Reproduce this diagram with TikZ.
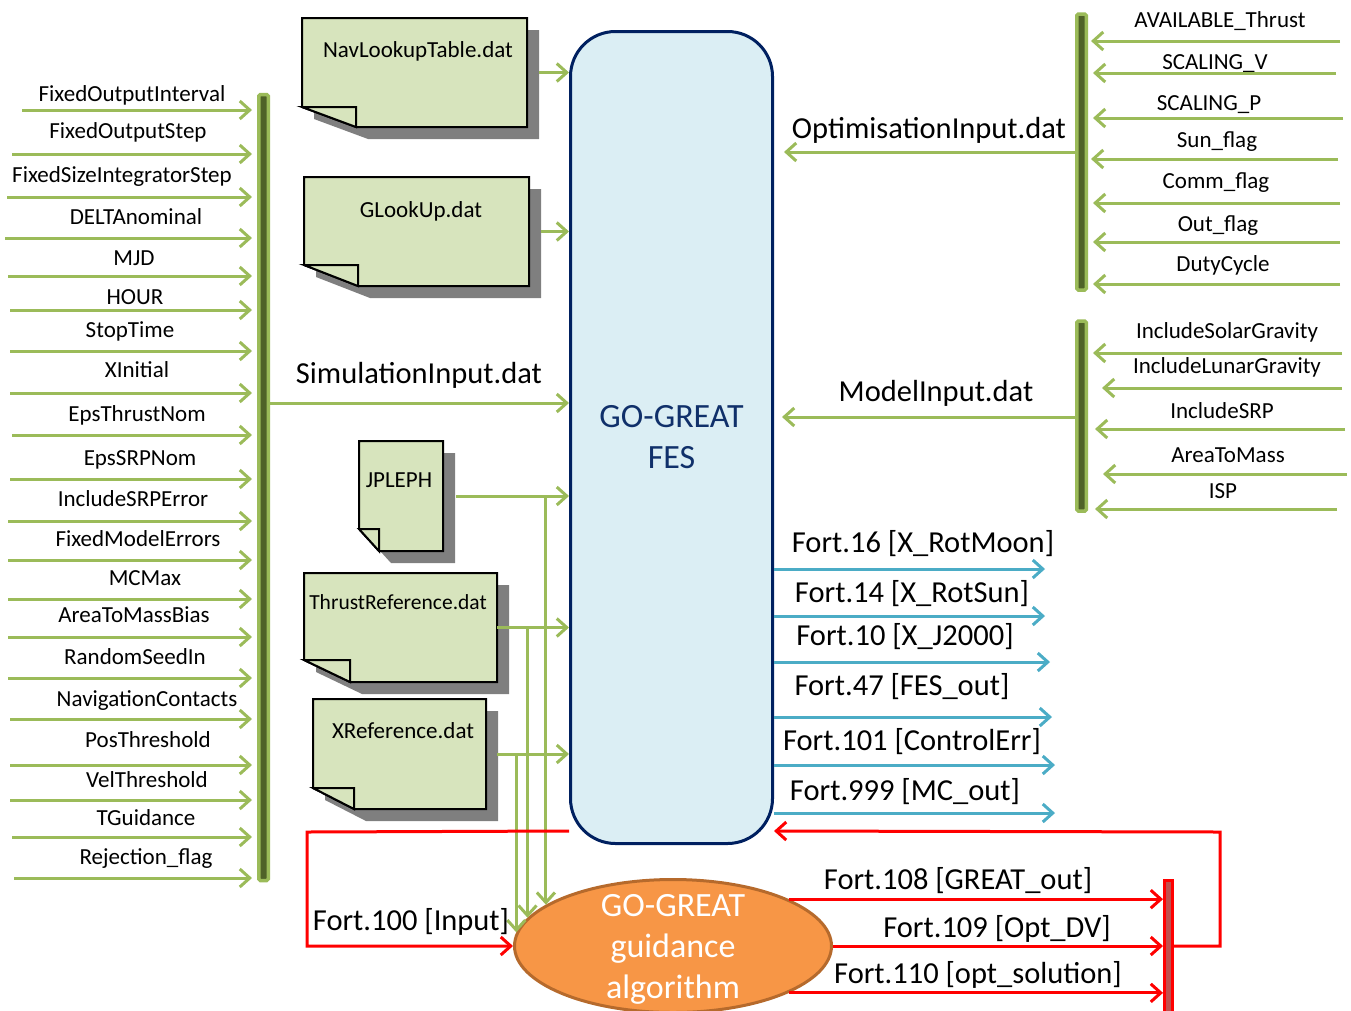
\documentclass[tikz,border=0pt]{standalone}
\usepackage{fontspec}
\setmainfont{Carlito}
\usetikzlibrary{arrows.meta,shapes.geometric,calc}

\definecolor{gline}{HTML}{9BBB59}
\definecolor{gdark}{HTML}{4F6228}
\definecolor{docfill}{HTML}{D7E4BD}
\definecolor{docshade}{HTML}{7F7F7F}
\definecolor{fesfill}{HTML}{DBEEF4}
\definecolor{fesline}{HTML}{002060}
\definecolor{festext}{HTML}{10306A}
\definecolor{bline}{HTML}{4BACC6}
\definecolor{ofill}{HTML}{F79646}
\definecolor{oborder}{HTML}{B66A2C}
\definecolor{rbarfill}{HTML}{C0504D}

\tikzset{
  barbtip/.style={-{Straight Barb[length=10pt,width=18pt]}},
  garrow/.style={draw=gline, line width=3pt, barbtip},
  barrow/.style={draw=bline, line width=3pt, barbtip},
  rarrow/.style={draw=red, line width=3pt, barbtip},
  gbar/.style={draw=gline, fill=gdark, line width=3.5pt, minimum width=9.5pt,
    inner sep=0pt, rounded corners=1.5pt},
  redbar/.style={draw=red, fill=rbarfill, line width=3pt, minimum width=8pt, inner sep=0pt},
  lbl/.style={font=\fontsize{23}{27}\selectfont, anchor=base, inner sep=0pt},
  biglbl/.style={font=\fontsize{30.5}{36}\selectfont, anchor=base, inner sep=0pt},
  docline/.style={draw=black, line width=2pt, line join=miter},
}

% a data file: note with folded lower-left corner and a drop shadow
% #1 name, #2 centre, #3 width, #4 height, #5 fold width, #6 fold height
\newcommand\docnote[6]{%
  \node[minimum width=#3pt, minimum height=#4pt, inner sep=0pt, outer sep=0pt] (#1) at #2 {};
  \fill[docshade]
    ([xshift=12pt,yshift=-12pt]#1.north west) -- ([xshift=12pt,yshift=-12pt]#1.north east)
    -- ([xshift=12pt,yshift=-12pt]#1.south east) -- ([xshift=12pt+#5pt,yshift=-12pt]#1.south west)
    -- ([xshift=12pt,yshift=-12pt+#6pt]#1.south west) -- cycle;
  \filldraw[docline, fill=docfill]
    (#1.north west) -- (#1.north east) -- (#1.south east) -- ([xshift=#5pt]#1.south west)
    -- ([yshift=#6pt]#1.south west) -- cycle;
  \filldraw[docline, fill=docfill]
    ([yshift=#6pt]#1.south west) -- ([xshift=#5pt,yshift=#6pt]#1.south west)
    -- ([xshift=#5pt]#1.south west) -- cycle;
}

\begin{document}
\begin{tikzpicture}[x=1pt, y=-1pt]
\useasboundingbox (0,0) rectangle (1351,1010);
\clip (0,0) rectangle (1351,1010);

% ---- central simulator block and guidance algorithm
\node[draw=fesline, fill=fesfill, line width=3pt, rounded corners=45pt,
  minimum width=202pt, minimum height=812pt, inner sep=0pt, align=center,
  text=festext, font=\fontsize{34}{41}\selectfont] (fes) at (671.5,437.5) {GO-GREAT\\FES};

\node[ellipse, draw=oborder, fill=ofill, line width=3pt, minimum width=317pt,
  minimum height=133pt, inner sep=0pt,
  label={[align=center, text=white, font=\fontsize{34}{41}\selectfont, inner sep=0pt, yshift=-3pt]center:GO-GREAT\\guidance\\algorithm}]
  (ell) at (673,946) {};

% ---- collecting bars
\node[gbar, minimum height=786pt] (lbar) at (263.5,487.5) {};
\node[gbar, minimum height=276pt] (rtbar) at (1081.5,152) {};
\node[gbar, minimum height=190pt] (rbbar) at (1081.5,416) {};
\node[redbar, minimum height=160pt] (rbar) at (1168.5,960) {};

% ---- simulation inputs (left)
\foreach \t/\tx/\ty/\ay/\sx [count=\i] in {
  FixedOutputInterval/132/101/110/22,
  FixedOutputStep/128/138/154/12,
  FixedSizeIntegratorStep/122/182/197/7,
  DELTAnominal/136/224/238/5,
  MJD/134/265/276/8,
  HOUR/135/304/310/10,
  StopTime/130/337/351/10,
  XInitial/137/377/393/10,
  EpsThrustNom/137/421/435/12,
  EpsSRPNom/140/465/479/10,
  IncludeSRPError/133/506/521/8,
  FixedModelErrors/138/546/560/8,
  MCMax/145/585/599/8,
  AreaToMassBias/134/622/637/8,
  RandomSeedIn/135/664/678/8,
  NavigationContacts/147/706/719/10,
  PosThreshold/148/747/765/10,
  VelThreshold/147/787/800/10,
  TGuidance/146/825/837/12,
  Rejection\_flag/146/864/878/14} {
  \node[lbl] (lt\i) at (\tx,\ty) {\t};
  \coordinate (ls\i) at (\sx,\ay);
  \draw[garrow, shorten >=5pt] (ls\i) -- (ls\i -| lbar.west);
}

% ---- optimisation inputs (right, top)
\foreach \t/\tx/\ty/\ay/\sx/\sh [count=\i] in {
  AVAILABLE\_Thrust/1220/27/41/1340/3pt,
  SCALING\_V/1215/69/73/1336/5pt,
  SCALING\_P/1209/110/118/1343/5pt,
  Sun\_flag/1217/147/159/1338/3pt,
  Comm\_flag/1216/188/203/1340/5pt,
  Out\_flag/1218/231/242/1340/5pt,
  DutyCycle/1223/271/284/1340/5pt} {
  \node[lbl] (rt\i) at (\tx,\ty) {\t};
  \coordinate (rs\i) at (\sx,\ay);
  \draw[garrow, shorten >=\sh] (rs\i) -- (rs\i -| rtbar.east);
}

% ---- model inputs (right, middle)
\foreach \t/\tx/\ty/\ay/\sx/\sh [count=\i] in {
  IncludeSolarGravity/1227/338/353/1342/5pt,
  IncludeLunarGravity/1227/373/388/1342/14pt,
  IncludeSRP/1222/418/429/1345/7pt,
  AreaToMass/1228/462/474/1347/15pt,
  ISP/1223/498/509/1337/7pt} {
  \node[lbl] (mt\i) at (\tx,\ty) {\t};
  \coordinate (ms\i) at (\sx,\ay);
  \draw[garrow, shorten >=\sh] (ms\i) -- (ms\i -| rbbar.east);
}

% ---- input files into the simulator
\node[biglbl] (simlbl) at (419,383) {SimulationInput.dat};
\node[biglbl] (optlbl) at (929,138) {OptimisationInput.dat};
\node[biglbl] (modlbl) at (936,401) {ModelInput.dat};
\coordinate (simrow) at (0,403);
\coordinate (optrow) at (0,152);
\coordinate (modrow) at (0,417);
\draw[garrow] (simrow -| lbar.east) -- (simrow -| fes.west);
\draw[garrow, shorten >=10pt] (optrow -| rtbar.west) -- (optrow -| fes.east);
\draw[garrow, shorten >=8pt] (modrow -| rbbar.west) -- (modrow -| fes.east);

% ---- data files
\docnote{nav}{(414.5,72.5)}{225}{109}{54}{20}
\docnote{glk}{(416.5,231.5)}{225}{109}{54}{21}
\docnote{jpl}{(401,496)}{84}{110}{20}{22}
\docnote{thr}{(400.5,627.5)}{193}{109}{46}{22}
\docnote{xref}{(399.5,754)}{173}{110}{41}{21}

\node[lbl] (navlbl) at (418,57) {NavLookupTable.dat};
\node[lbl] (glklbl) at (421,217) {GLookUp.dat};
\node[lbl] (jpllbl) at (399,487) {JPLEPH};
\node[lbl, font=\fontsize{21.5}{25}\selectfont] (thrlbl) at (398,609) {ThrustReference.dat};
\node[lbl] (xreflbl) at (403,738) {XReference.dat};

\draw[garrow] ([xshift=12pt]nav.east) -- (nav.east -| fes.west);
\draw[garrow] ([xshift=12pt]glk.east) -- (glk.east -| fes.west);
\draw[garrow] ([xshift=13pt]jpl.east) -- (jpl.east -| fes.west);
\draw[garrow] ([xshift=0pt]thr.east) -- (thr.east -| fes.west);
\draw[garrow] ([xshift=11pt]xref.east) -- (xref.east -| fes.west);

% branches of the ephemeris and reference files down to the guidance
\draw[garrow] (ell.162 |- jpl.east) -- (ell.162);
\draw[garrow] (ell.169 |- thr.east) -- (ell.169);
\draw[garrow] (ell.175.5 |- xref.east) -- (ell.175.5);

% ---- simulator outputs
\foreach \t/\tx/\ty/\ay/\ex [count=\i] in {
  Fort.16 [X\_RotMoon]/923/552/569/1045,
  Fort.14 [X\_RotSun]/912/602/616/1045,
  Fort.10 [X\_J2000]/905/645/662/1050,
  Fort.47 [FES\_out]/902/695/717/1052,
  Fort.101 [ControlErr]/912/750/765/1055,
  Fort.999 [MC\_out]/905/800/813/1055} {
  \node[biglbl] (ot\i) at (\tx,\ty) {\t};
  \coordinate (oe\i) at (\ex,\ay);
  \draw[barrow] (oe\i -| fes.east) -- (oe\i);
}

% ---- guidance loop
\coordinate (redL) at (307,832);
\coordinate (redR) at (1220,832);
\node[biglbl] (f100) at (411,930) {Fort.100 [Input]};
\draw[rarrow] ([yshift=14pt]fes.south west) -- (redL) |- (ell.west);

\node[biglbl] (f108) at (958,889) {Fort.108 [GREAT\_out]};
\node[biglbl] (f109) at (997,937) {Fort.109 [Opt\_DV]};
\node[biglbl] (f110) at (978,983) {Fort.110 [opt\_solution]};
\draw[rarrow] (ell.22) -- (ell.22 -| rbar.west);
\draw[rarrow] (ell.east) -- (ell.east -| rbar.west);
\draw[rarrow] (ell.-22) -- (ell.-22 -| rbar.west);
\draw[rarrow] (ell.east -| rbar.east) -| (redR) -- ([yshift=14pt]fes.south east);
\end{tikzpicture}
\end{document}
